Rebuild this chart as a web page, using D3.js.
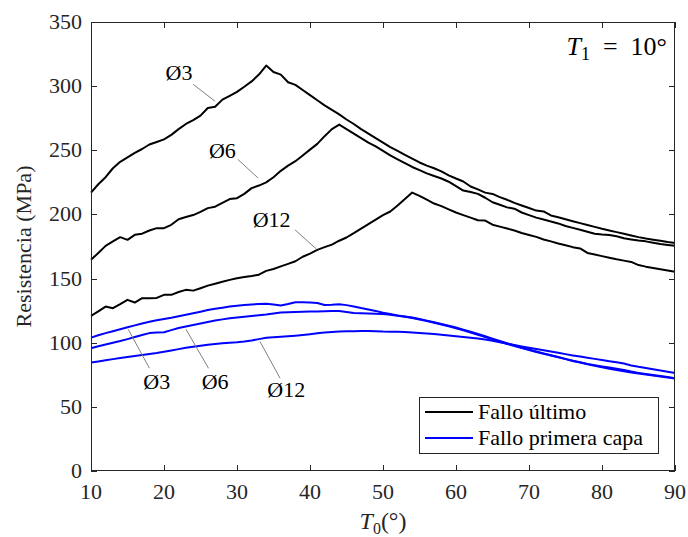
<!DOCTYPE html>
<html><head><meta charset="utf-8">
<script src="https://cdn.jsdelivr.net/npm/d3@7"></script>
<style>body{margin:0;background:#fff}</style>
</head><body><svg id="c" width="688" height="537" font-family="'Liberation Serif', 'DejaVu Serif', serif"></svg>
<script>
const T = d3.range(10, 91);
const xTicks = [10,20,30,40,50,60,70,80,90];
const yTicks = [0,50,100,150,200,250,300,350];
const seriesNames = ["Fallo último","Fallo primera capa"];
const ult3 = [217,223.5,229,236,241,244.5,248,251,254.5,256.5,258.5,262,266.5,270.5,273.5,277,283,284,289.5,292.5,295.5,299.5,303.7,309,316,311,309,303,301,297,293,289,285,281.5,278,274,270.5,266.5,263,259.5,256,252.5,249.5,246.5,243.5,240.5,238,236,233.5,230.5,228,225.7,221.8,219.5,217,216,213.5,211.4,209,207,205,203,202.3,199.2,197.8,196.2,194.7,193.2,191.8,190.3,188.8,187.5,186.2,185,183.6,182.3,181.2,180.3,179.5,178.5,177.7];
const ult6 = [164.6,170,175.5,179,182.3,180.2,184.1,185,187.5,189.3,189.3,191.9,196.3,198,199.5,202,204.9,206,209,212,212.7,216,220.5,222.5,225,229,234,238,241.5,246,250.5,255,261,266.5,270,266.5,263,259.5,256,253,249.5,246,243,240,237,234.5,232,230,228,225.5,222,218.6,217.5,216,213,209.5,207.5,205.5,204.5,201.5,199.5,197.5,196,194.5,193,191,189.5,188,186.5,185,184.3,184,183,181.5,180.5,179.6,179,178,177,176.2,175.5];
const ult12 = [120.9,124.5,128.2,126.9,130,133.4,131.3,134.7,134.7,134.9,137.3,137.3,139.5,141.2,140.6,142.5,144.5,146,147.5,149,150.3,151.2,152,153,156,157.5,159.5,161.5,163.5,167,169.5,172.4,174.5,176.5,179.5,182,185.5,189,192.5,196,199.5,202.3,207,212,217,214.5,211.5,208.5,206.5,204,201.5,199.5,197.5,195.5,195.2,192,190.5,189,187.5,185.5,184,182.5,180.5,179,177.3,176,174.5,173.5,170,168.8,167.5,166.3,165,164,163,160.5,159.3,158.3,157.3,156.3,155.3];
const fpf3 = [104,105.8,107.5,109,110.5,112,113.5,115,116.3,117.5,118.5,119.5,120.7,121.8,123,124.2,125.5,126.5,127.3,128.2,128.9,129.4,129.8,130.1,130.3,129.8,129,130.2,131.6,131.6,131.4,131,129.4,129.6,130,129.3,128.3,127,125.9,124.8,123.3,122.3,121.3,120.5,119.6,118.5,117.2,115.9,114.6,113.3,111.8,110.2,108.5,106.8,105,103.2,101.4,99.6,97.9,96.3,94.7,93.2,91.7,90.2,88.8,87.4,86,84.7,83.5,82.5,81.5,80.6,79.7,78.7,77.5,76.5,75.6,74.8,74,73.2,72.4];
const fpf6 = [95.7,97.2,98.6,100,101.3,102.8,104.4,106,107.5,107.9,108.2,109.8,111.5,112.7,113.8,115,116.2,117.3,118.2,119,119.7,120.3,120.9,121.5,122,122.8,123.5,123.8,124,124.2,124.3,124.4,124.5,124.7,124.8,124,123.2,122.9,122.7,122.5,122.4,121.8,121,120.2,119.2,118.1,116.9,115.6,114.2,112.8,111.3,109.7,108,106.2,104.4,102.6,100.8,99,97.4,95.8,94.3,92.8,91.4,90,88.6,87.2,85.8,84.5,83.2,82,80.8,79.7,78.7,77.7,76.8,76,75.2,74.4,73.6,72.8,72];
const fpf12 = [84.5,85.4,86.3,87.2,88,88.8,89.6,90.4,91.2,92,93,94,95,96,96.9,97.7,98.4,99,99.6,100,100.4,101,101.8,102.8,103.8,104.3,104.7,105.1,105.5,106,106.6,107.3,108,108.4,108.7,108.9,109,109.1,109.2,109,108.7,108.6,108.6,108.3,108,107.6,107.2,106.8,106.3,105.7,105.1,104.5,103.9,103.3,102.5,101.5,100.4,99.3,98.2,97.1,96.1,95.1,94.1,93.1,92.1,91.1,90.1,89.2,88.3,87.4,86.5,85.6,84.7,83.8,82.3,81.2,80.3,79.4,78.4,77.4,76.4];

// annotation labels: text, label anchor (T, MPa), leader from/to (T, MPa)
const annotations = [
  {t:"Ø3",  at:[22.05,305], a:[24.0,301.4], b:[27.0,288.2]},
  {t:"Ø6",  at:[28.0,244],  a:[30.1,243],   b:[32.9,228.3]},
  {t:"Ø12", at:[34.75,190.3], a:[37.95,188], b:[40.9,172.9]},
  {t:"Ø3",  at:[19.0,64],   a:[15.1,110.5], b:[18.0,80.1]},
  {t:"Ø6",  at:[27.0,64],   a:[23.0,110.5], b:[26.1,80.1]},
  {t:"Ø12", at:[36.75,57.7], a:[33.15,100.9], b:[35.9,72.3]}
];

const svg = d3.select("#c");
const L=91, R=675, Tp=22, B=471;
const x = d3.scaleLinear().domain([10,90]).range([L,R]);
const y = d3.scaleLinear().domain([0,350]).range([B,Tp]);
const axc = "#262626";
const FS = 22;

svg.append("rect").attr("width",688).attr("height",537).attr("fill","#fff");

const line = d3.line().x((d,i)=>x(T[i])).y(d=>y(d));
[[ult3,"#000"],[ult6,"#000"],[ult12,"#000"],[fpf3,"#0000ff"],[fpf6,"#0000ff"],[fpf12,"#0000ff"]].forEach(([s,c])=>{
  svg.append("path").attr("d",line(s)).attr("fill","none").attr("stroke",c).attr("stroke-width",2).attr("stroke-linejoin","round");
});

annotations.forEach(a=>{
  svg.append("line").attr("x1",x(a.a[0])).attr("y1",y(a.a[1])).attr("x2",x(a.b[0])).attr("y2",y(a.b[1]))
    .attr("stroke","#808080").attr("stroke-width",1);
  svg.append("text").attr("x",x(a.at[0])).attr("y",y(a.at[1])).attr("text-anchor","middle")
    .attr("font-size",FS).attr("fill","#000").text(a.t);
});

svg.append("rect").attr("x",L+0.5).attr("y",Tp+0.5).attr("width",R-L-1).attr("height",B-Tp-1)
  .attr("fill","none").attr("stroke",axc).attr("stroke-width",1);
const tk = 6;
xTicks.forEach(v=>{
  const px = Math.round(x(v))+0.5;
  svg.append("line").attr("x1",px).attr("x2",px).attr("y1",B).attr("y2",B-tk).attr("stroke",axc);
  svg.append("line").attr("x1",px).attr("x2",px).attr("y1",Tp).attr("y2",Tp+tk).attr("stroke",axc);
  svg.append("text").attr("x",x(v)).attr("y",B+28).attr("text-anchor","middle").attr("font-size",FS).attr("fill",axc).text(v);
});
yTicks.forEach(v=>{
  const py = Math.round(y(v))+0.5;
  svg.append("line").attr("x1",L).attr("x2",L+tk).attr("y1",py).attr("y2",py).attr("stroke",axc);
  svg.append("line").attr("x1",R).attr("x2",R-tk).attr("y1",py).attr("y2",py).attr("stroke",axc);
  svg.append("text").attr("x",L-9).attr("y",y(v)+7).attr("text-anchor","end").attr("font-size",FS).attr("fill",axc).text(v);
});

const xl = svg.append("text").attr("x",(L+R)/2).attr("y",529).attr("text-anchor","middle").attr("font-size",24).attr("fill",axc);
xl.append("tspan").attr("font-style","italic").text("T");
xl.append("tspan").attr("font-size",16).attr("dy",5).text("0");
xl.append("tspan").attr("dy",-5).text("(°)");
svg.append("text").attr("transform",`translate(31,${(Tp+B)/2}) rotate(-90)`).attr("text-anchor","middle")
  .attr("font-size",FS).attr("fill",axc).text("Resistencia (MPa)");

const t1 = svg.append("text").attr("x",R-8).attr("y",55).attr("text-anchor","end").attr("font-size",26).attr("fill","#000");
t1.append("tspan").attr("font-style","italic").text("T");
t1.append("tspan").attr("font-size",18).attr("dy",5).text("1");
t1.append("tspan").attr("dy",-5).text("\u2002=\u200210°");

const lg = svg.append("g");
lg.append("rect").attr("x",419.5).attr("y",397.5).attr("width",239).attr("height",56).attr("fill","#fff").attr("stroke",axc);
[["#000",412],["#0000ff",438]].forEach(([c,yy],i)=>{
  lg.append("line").attr("x1",425).attr("x2",473).attr("y1",yy).attr("y2",yy).attr("stroke",c).attr("stroke-width",2);
  lg.append("text").attr("x",478).attr("y",yy+7).attr("font-size",FS).attr("fill","#000").text(seriesNames[i]);
});
</script></body></html>
